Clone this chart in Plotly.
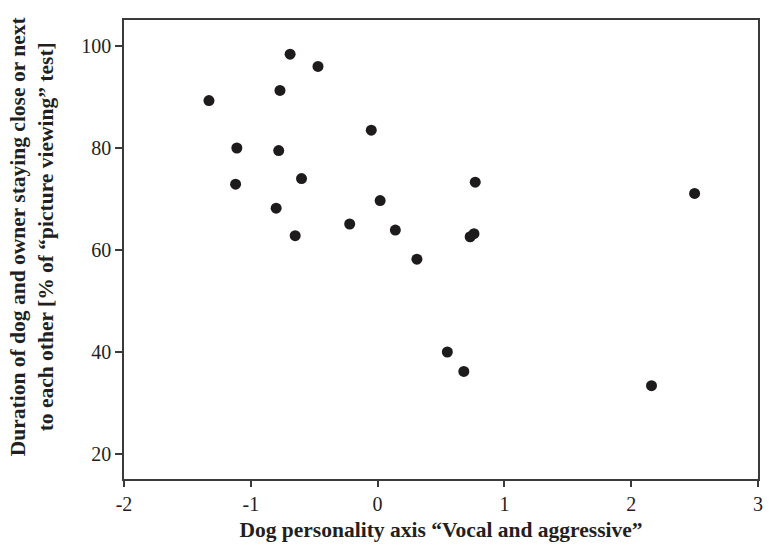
import plotly.graph_objects as go

# Dog personality score ("Vocal and aggressive") vs. time spent close together
personality = [-1.33, -0.69, -0.47, -0.77, -0.05, -1.11, -0.78, -1.12, -0.60,
               -0.80, 0.02, -0.22, -0.65, 0.77, 0.14, 0.73, 0.76, 2.50,
               0.31, 0.55, 0.68, 2.16]
duration_pct = [89.2, 98.3, 95.9, 91.2, 83.4, 79.9, 79.4, 72.8, 73.9,
                68.1, 69.6, 65.0, 62.7, 73.2, 63.8, 62.5, 63.1, 71.0,
                58.1, 39.9, 36.1, 33.3]

x_ticks = [-2, -1, 0, 1, 2, 3]
y_ticks = [20, 40, 60, 80, 100]

x_title = "Dog personality axis “Vocal and aggressive”"
y_title_lines = ["Duration of dog and owner staying close or next",
                 "to each other [% of “picture viewing” test]"]

axis_color = "#3a3a3a"
text_color = "#231f20"
serif = "Liberation Serif, DejaVu Serif, serif"

fig = go.Figure(
    go.Scatter(
        x=personality,
        y=duration_pct,
        mode="markers",
        marker=dict(size=11, color="#1e1b1c", line=dict(width=0)),
        showlegend=False,
    )
)

fig.update_layout(
    width=769,
    height=553,
    margin=dict(l=124, r=6, t=20, b=74),
    paper_bgcolor="white",
    plot_bgcolor="white",
    font=dict(family=serif, size=20, color=text_color),
)

axis_style = dict(
    ticks="outside",
    tickwidth=1.5,
    tickcolor=axis_color,
    showline=True,
    linecolor=axis_color,
    linewidth=1.5,
    mirror=True,
    showgrid=False,
    zeroline=False,
    tickfont=dict(size=20),
)

fig.update_xaxes(
    range=[-2, 3],
    tickvals=x_ticks,
    ticktext=[str(v) for v in x_ticks],
    ticklen=6,
    title=dict(text=f"<b>{x_title}</b>", font=dict(size=21.5), standoff=8),
    **axis_style,
)

fig.update_yaxes(
    range=[15, 105],
    tickvals=y_ticks,
    ticktext=[str(v) for v in y_ticks],
    ticklen=7,
    **axis_style,
)

# Two-line vertical axis title, placed slightly above the plot's mid-height
fig.add_annotation(
    text="<b>" + "<br>".join(y_title_lines) + "</b>",
    textangle=-90,
    xref="paper", yref="paper",
    x=0, y=0.529,
    xanchor="center", yanchor="middle",
    xshift=-92,
    showarrow=False,
    font=dict(size=21.5, color=text_color),
)

fig.write_html("out.html")
